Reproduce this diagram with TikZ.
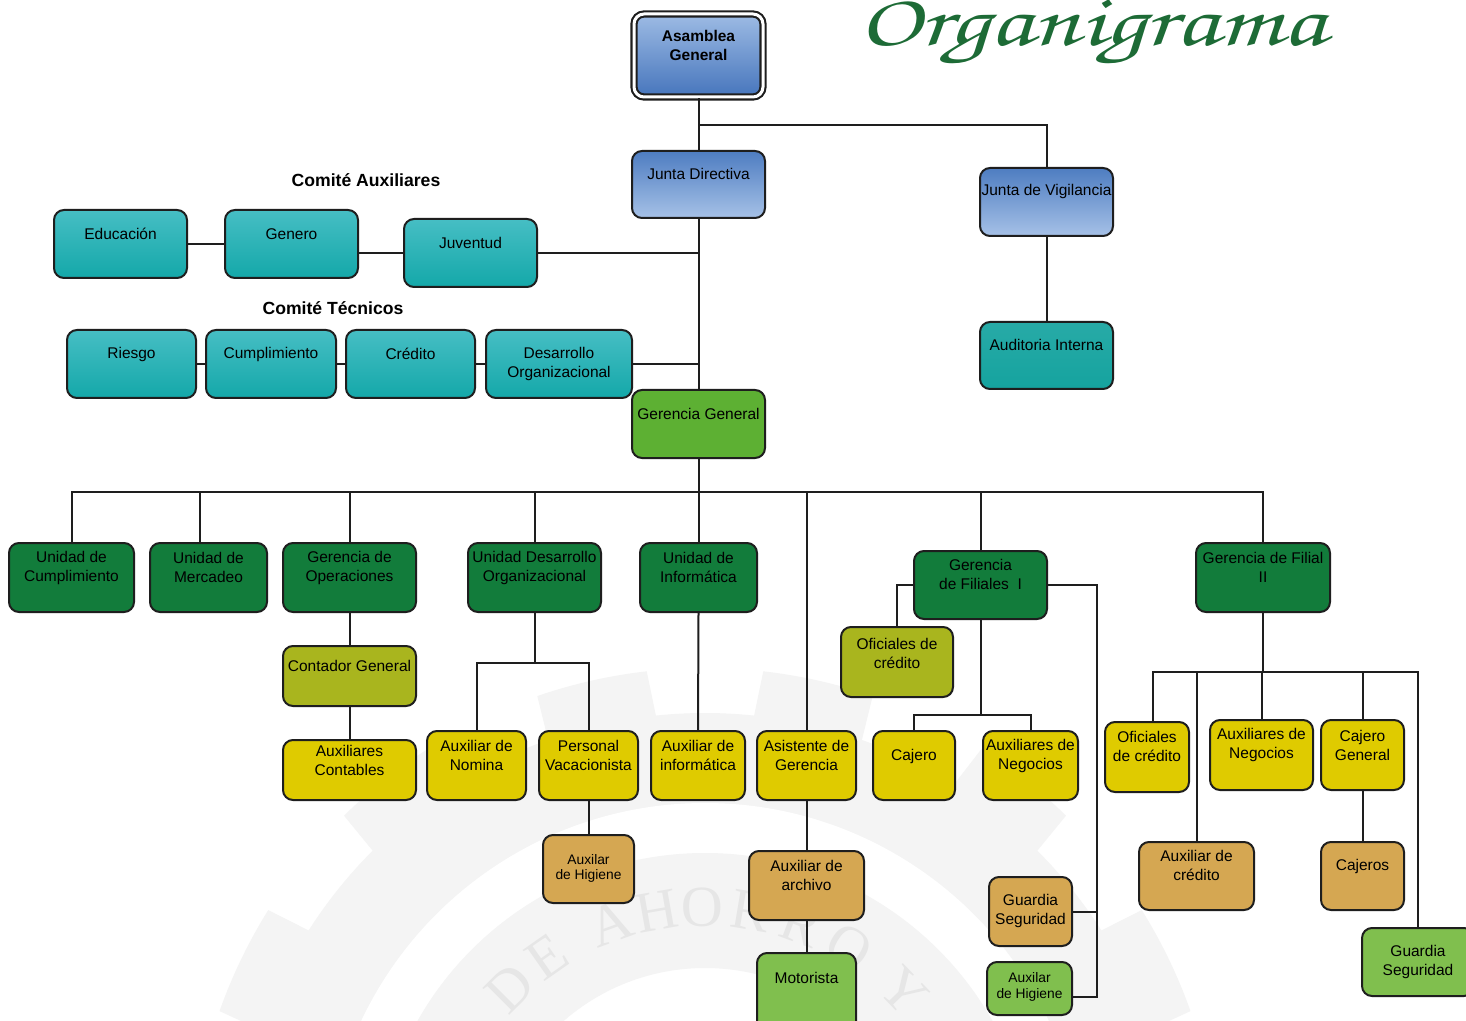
\documentclass[tikz,border=0pt]{standalone}
\usepackage{graphicx}
\usepackage{fontspec}
\setmainfont{Liberation Sans}
\newfontfamily\chorus{texgyrechorus-mediumitalic.otf}
\newfontfamily\wmfont{Liberation Serif}
\usetikzlibrary{fit}
\definecolor{lc}{HTML}{1E1E1E}
\definecolor{ablueT}{HTML}{9DBBE4}
\definecolor{ablueB}{HTML}{4675BC}
\definecolor{jblueT}{HTML}{4E7DC1}
\definecolor{jblueB}{HTML}{A6C1E7}
\definecolor{tealT}{HTML}{46BEC4}
\definecolor{tealB}{HTML}{14A8A9}
\definecolor{tealD}{HTML}{15A39F}
\definecolor{ggreen}{HTML}{5DB033}
\definecolor{dgreen}{HTML}{127C3B}
\definecolor{olive}{HTML}{A9B51E}
\definecolor{yel}{HTML}{DFCB00}
\definecolor{tan}{HTML}{D5A752}
\definecolor{lgreen}{HTML}{80BF4E}
\definecolor{titlegreen}{HTML}{1D6B36}
\definecolor{wmgray}{HTML}{F4F4F4}
\definecolor{wmtext}{HTML}{E6E6E6}
\tikzset{
  bx/.style={draw=lc, line width=1pt, rounded corners=5pt, inner sep=0pt},
  txt/.style={align=center, inner sep=0pt, text=black, font=\fontsize{7.75}{9.5}\selectfont},
  smalltxt/.style={align=center, inner sep=0pt, text=black, font=\fontsize{6.9}{7.6}\selectfont},
  hdr/.style={inner sep=0pt, font=\fontsize{8.8}{10}\selectfont\bfseries},
  ln/.style={draw=lc, line width=1pt},
  asamblea/.style={bx, top color=ablueT, bottom color=ablueB, line width=1.05pt, double=white, double distance=1.5pt},
  junta/.style={bx, top color=jblueT, bottom color=jblueB},
  teal/.style={bx, top color=tealT, bottom color=tealB},
  tealflat/.style={bx, top color=tealD!92!white, bottom color=tealD},
  gen/.style={bx, fill=ggreen},
  dark/.style={bx, fill=dgreen},
  oliv/.style={bx, fill=olive},
  yellow/.style={bx, fill=yel},
  tanbox/.style={bx, fill=tan},
  light/.style={bx, fill=lgreen},
  wmtxt/.style={inner sep=0pt, text=wmtext, font=\wmfont\fontsize{29}{29}\selectfont}
}
% box: name, style, x1, y1, x2, y2, text-y, text
\newcommand\ob[8]{%
  \node[#2, fit={(#3,#4) (#5,#6)}] (#1) {};
  \node[txt] (#1t) at ({(#3+#5)/2},#7) {#8};}
\newcommand\obs[8]{%
  \node[#2, fit={(#3,#4) (#5,#6)}] (#1) {};
  \node[smalltxt] (#1t) at ({(#3+#5)/2},#7) {#8};}
\begin{document}
\begin{tikzpicture}[x=0.5pt,y=-0.5pt]
\useasboundingbox (0,0) rectangle (1466,1021);
\clip (0,0) rectangle (1466,1021);
\fill[white] (0,0) rectangle (1466,1021);
% watermark (faint gear with lettering)
\fill[wmgray] plot[samples=721, domain=0:360, variable=\t]
  ({705+ifthenelse(cos(14*\t)>0,515,470)*cos(\t)}, {1183-ifthenelse(cos(14*\t)>0,515,470)*sin(\t)}) -- cycle;
\fill[white] (705,1183) circle[radius=380];
\fill[wmgray, even odd rule] (705,1183) circle[radius=330] (705,1183) circle[radius=215];
\foreach \ch/\a [count=\i] in {D/135,E/125,A/110,H/100,O/90.5,R/80.5,R/69.5,O/58.5,Y/44}
  \node[wmtxt, rotate=\a-90] (wm\i) at ({705+276*cos(\a)},{1183-276*sin(\a)}) {\ch};
% title
\node[anchor=base west, inner sep=0pt, text=titlegreen] (title) at (858,46) {\scalebox{1}[0.72]{\resizebox{233.5pt}{!}{\chorus Organigrama}}};
% top boxes
\ob{ag}{asamblea}{634}{14}{763}{97}{45}{\bfseries Asamblea\\\bfseries General}
\ob{jd}{junta}{632}{151}{765}{218}{174}{Junta Directiva}
\ob{jv}{junta}{980}{168}{1113}{236}{191}{Junta de Vigilancia}
\ob{au}{tealflat}{980}{322}{1113}{389}{345}{Auditoria Interna}
\node[hdr] (hca) at (366,180) {Comité Auxiliares};
\ob{edu}{teal}{54}{210}{187}{278}{234}{Educación}
\ob{gen}{teal}{225}{210}{358}{278}{234}{Genero}
\ob{juv}{teal}{404}{219}{537}{287}{243}{Juventud}
\node[hdr] (hct) at (333,308) {Comité Técnicos};
\ob{rie}{teal}{67}{330}{196}{398}{354}{Riesgo}
\ob{cum}{teal}{206}{330}{336}{398}{354}{Cumplimiento}
\ob{cre}{teal}{346}{330}{475}{398}{354}{Crédito}
\ob{dor}{teal}{486}{330}{632}{398}{363.5}{Desarrollo\\Organizacional}
\ob{gg}{gen}{632}{390}{765}{458}{414}{Gerencia General}
% level 2
\ob{ucu}{dark}{9}{543}{134}{612}{567.5}{Unidad de\\Cumplimiento}
\ob{ume}{dark}{150}{543}{267}{612}{567.5}{Unidad de\\Mercadeo}
\ob{gop}{dark}{283}{543}{416}{612}{567.5}{Gerencia de\\Operaciones}
\ob{udo}{dark}{468}{543}{601}{612}{567.5}{Unidad Desarrollo\\Organizacional}
\ob{uin}{dark}{640}{543}{757}{612}{567.5}{Unidad de\\Informática}
\ob{gfa}{dark}{914}{551}{1047}{619}{574.5}{Gerencia\\de Filiales\ \ I}
\ob{gfb}{dark}{1196}{543}{1330}{612}{567.5}{Gerencia de Filial\\II}
% level 3+
\ob{cg}{oliv}{283}{646}{416}{706}{666}{Contador General}
\ob{ac}{yellow}{283}{740}{416}{800}{760.5}{Auxiliares\\Contables}
\ob{an}{yellow}{427}{731}{526}{800}{755.5}{Auxiliar de\\Nomina}
\ob{pv}{yellow}{539}{731}{638}{800}{755.5}{Personal\\Vacacionista}
\obs{aha}{tanbox}{543}{835}{634}{903}{868.5}{Auxilar\\de Higiene}
\ob{axi}{yellow}{651}{731}{745}{800}{755.5}{Auxiliar de\\informática}
\ob{asg}{yellow}{757}{731}{856}{800}{755.5}{Asistente de\\Gerencia}
\ob{aar}{tanbox}{749}{851}{864}{920}{875.5}{Auxiliar de\\archivo}
\ob{mot}{light}{757}{953}{856}{1035}{978}{Motorista}
\ob{ofa}{oliv}{841}{627}{953}{697}{653.5}{Oficiales de\\crédito}
\ob{caj}{yellow}{873}{731}{955}{800}{756}{Cajero}
\ob{ana}{yellow}{983}{731}{1078}{800}{755.5}{Auxiliares de\\Negocios}
\ob{gsa}{tanbox}{989}{877}{1072}{946}{910.5}{Guardia\\Seguridad}
\obs{ahb}{light}{987}{962}{1072}{1015}{987}{Auxilar\\de Higiene}
\ob{ofb}{yellow}{1105}{722}{1189}{792}{746}{Oficiales\\de crédito}
\ob{anb}{yellow}{1210}{720}{1313}{790}{745}{Auxiliares de\\Negocios}
\ob{cjg}{yellow}{1321}{720}{1404}{790}{745}{Cajero\\General}
\ob{acr}{tanbox}{1139}{842}{1254}{910}{865.5}{Auxiliar de\\crédito}
\ob{cjs}{tanbox}{1321}{842}{1404}{910}{866}{Cajeros}
\ob{gsb}{light}{1362}{928}{1474}{996}{961.5}{Guardia\\Seguridad}
% connectors
\coordinate (j1) at (698,125);
\coordinate (bus) at (0,492);
\coordinate (b2) at (0,663);
\coordinate (b3) at (0,715);
\coordinate (b4) at (0,672);
\coordinate (rx) at (1097,0);
\coordinate (mx) at (200,0);
\coordinate (hb) at ([yshift=-4.25pt]ahb.east);
\coordinate (ob) at ([xshift=3pt]ofb.north);
\draw[ln] (ag.south) -- (jd.north);
\draw[ln] (j1) -| (jv.north);
\draw[ln] (jv.south) -- (au.north);
\draw[ln] (jd.south) -- (gg.north);
\draw[ln] (edu.east) -- (gen.west);
\draw[ln] (juv.west) -- (juv.west -| gen.east);
\draw[ln] (juv.east) -- (juv.east -| jd.south);
\draw[ln] (rie.east) -- (cum.west);
\draw[ln] (cum.east) -- (cre.west);
\draw[ln] (cre.east) -- (dor.west);
\draw[ln] (dor.east) -- (dor.east -| jd.south);
\draw[ln] (gg.south) -- (gg.south |- bus);
\draw[ln] (ucu.north) -- (ucu.north |- bus) -- (gfb.north |- bus) -- (gfb.north);
\draw[ln] (ume.north -| mx) -- (mx |- bus);
\draw[ln] (gop.north) -- (gop.north |- bus);
\draw[ln] (udo.north) -- (udo.north |- bus);
\draw[ln] (uin.north) -- (uin.north |- bus);
\draw[ln] (gfa.north) -- (gfa.north |- bus);
\draw[ln] (asg.north) -- (asg.north |- bus);
\draw[ln] (gop.south) -- (cg.north);
\draw[ln] (cg.south) -- (ac.north);
\draw[ln] (udo.south) -- (udo.south |- b2);
\draw[ln] (an.north) -- (an.north |- b2) -- (pv.north |- b2) -- (pv.north);
\draw[ln] (pv.south) -- (aha.north);
\draw[ln] (uin.south) -- (axi.north);
\draw[ln] (asg.south) -- (aar.north);
\draw[ln] (aar.south) -- (mot.north);
\draw[ln] (gfa.west) -| (ofa.north);
\draw[ln] (gfa.south) -- (gfa.south |- b3);
\draw[ln] (caj.north) -- (caj.north |- b3) -- (ana.north |- b3) -- (ana.north);
\draw[ln] (gfa.east) -- (gfa.east -| rx) -- (rx |- hb) -- (hb);
\draw[ln] (gsa.east) -- (gsa.east -| rx);
\draw[ln] (gfb.south) -- (gfb.south |- b4);
\draw[ln] (ob) -- (ob |- b4) -- (gsb.north |- b4) -- (gsb.north);
\draw[ln] (acr.north) -- (acr.north |- b4);
\draw[ln] (anb.north) -- (anb.north |- b4);
\draw[ln] (cjg.north) -- (cjg.north |- b4);
\draw[ln] (cjg.south) -- (cjs.north);
\end{tikzpicture}
\end{document}
